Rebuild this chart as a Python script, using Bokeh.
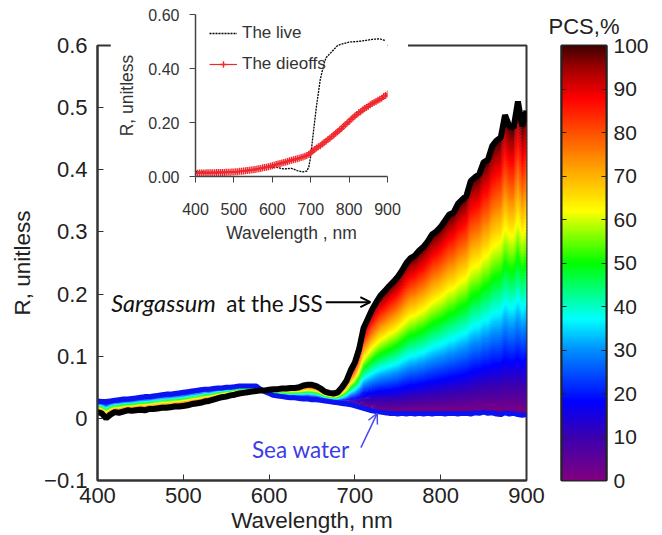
import numpy as np
from bokeh.embed import file_html
from bokeh.resources import INLINE
from bokeh.plotting import figure
from bokeh.layouts import column, row
from bokeh.models import (Arrow, OpenHead, Label, Legend, LegendItem, LinearAxis,
                          LinearColorMapper, Range1d, FixedTicker)

# ---------- data ----------
wavelength = list(range(400, 905, 5))
sargassum = [
    .010,.008,.000,.006,.010,.009,.011,.013,.012,.013,.014,.013,.015,.015,.016,.017,.017,.018,.019,.019,
    .020,.021,.023,.024,.025,.027,.028,.030,.032,.034,.035,.037,.038,.040,.041,.042,.043,.044,.045,.045,
    .046,.047,.047,.048,.048,.049,.049,.050,.053,.054,.054,.052,.048,.043,.041,.040,.042,.050,.060,.077,
    .090,.112,.145,.160,.175,.187,.198,.205,.213,.220,.228,.238,.250,.258,.262,.270,.276,.285,.296,.301,
    .308,.318,.328,.331,.345,.352,.358,.382,.388,.393,.412,.416,.438,.447,.452,.488,.470,.468,.510,.470,.495]
sea_water = [
    .028,.027,.027,.028,.029,.030,.031,.031,.032,.033,.034,.035,.035,.036,.037,.038,.039,.039,.040,.041,
    .042,.043,.044,.045,.046,.047,.047,.048,.049,.049,.050,.050,.051,.052,.052,.052,.052,.052,.047,.043,
    .040,.037,.036,.035,.034,.033,.033,.032,.031,.031,.030,.030,.029,.028,.027,.026,.025,.024,.023,.022,
    .020,.018,.016,.014,.012,.011,.010,.009,.008,.008,.007,.008,.007,.008,.007,.008,.007,.008,.007,.008,
    .008,.007,.008,.008,.007,.008,.008,.007,.009,.008,.010,.008,.009,.007,.006,.009,.007,.008,.006,.005,.006]
dieoffs = [
    .012,.012,.013,.013,.013,.013,.014,.014,.014,.014,.014,.015,.015,.015,.015,.015,.016,.016,.016,.017,
    .017,.018,.018,.019,.019,.020,.021,.022,.023,.024,.025,.026,.028,.029,.030,.032,.033,.034,.036,.038,
    .040,.042,.044,.046,.048,.050,.052,.054,.056,.058,.060,.062,.064,.066,.068,.070,.072,.075,.078,.082,
    .088,.094,.100,.106,.110,.114,.120,.126,.131,.137,.142,.148,.154,.160,.166,.172,.178,.185,.192,.198,
    .204,.212,.218,.224,.230,.236,.240,.246,.252,.256,.260,.266,.270,.274,.278,.282,.286,.290,.296,.300,.306]
live_wavelength = [400,450,500,550,590,610,630,650,665,680,690,695,700,705,710,715,720,725,730,735,
                   740,750,760,770,780,800,820,840,860,880,895]
live = [.018,.016,.016,.024,.036,.034,.028,.030,.022,.017,.020,.035,.075,.14,.20,.26,.31,.36,.39,.42,
        .44,.455,.47,.485,.49,.498,.50,.503,.508,.51,.503]
pcs_stops = [0, 10, 18, 30, 37, 50, 62, 72, 80, 88, 95, 100]
pcs_colors = ["#800080", "#3a00b0", "#0000ff", "#0090ff", "#00ffff", "#00ff00",
              "#ffff00", "#ffa000", "#ff5000", "#ff0000", "#a00000", "#400000"]
main_x_ticks = [400, 500, 600, 700, 800, 900]
main_y_ticks = [-0.1, 0, 0.1, 0.2, 0.3, 0.4, 0.5, 0.6]
main_y_labels = ["\u22120.1", "0", "0.1", "0.2", "0.3", "0.4", "0.5", "0.6"]
inset_y_ticks = [0, 0.2, 0.4, 0.6]
inset_y_labels = ["0.00", "0.20", "0.40", "0.60"]
pcs_ticks = [0, 10, 20, 30, 40, 50, 60, 70, 80, 90, 100]

# ---------- colours ----------
rgb = np.array([[int(c[i:i+2], 16) for i in (1, 3, 5)] for c in pcs_colors], float)
levels = np.linspace(0, 100, 256)
palette = ["#%02x%02x%02x" % tuple(int(round(np.interp(v, pcs_stops, rgb[:, k]))) for k in range(3))
           for v in levels]
mapper = LinearColorMapper(palette=palette, low=0, high=100)

FONT = "Liberation Sans"
DARK = "#333333"

# ---------- main plot ----------
p = figure(width=545, height=535, output_backend="svg", toolbar_location=None,
           x_range=Range1d(400, 900), y_range=Range1d(-0.1, 0.6),
           min_border_left=97, min_border_right=19, min_border_top=44, min_border_bottom=54,
           x_axis_label="Wavelength, nm", y_axis_label="R, unitless")
p.grid.visible = False
p.outline_line_color = DARK
p.outline_line_width = 2
for ax, ticks in ((p.xaxis[0], main_x_ticks), (p.yaxis[0], main_y_ticks)):
    ax.ticker = FixedTicker(ticks=ticks)
    ax.minor_tick_line_color = None
    ax.major_tick_in = 6
    ax.major_tick_out = 0
    ax.major_tick_line_color = DARK
    ax.axis_line_color = DARK
    ax.axis_line_width = 2
    ax.major_label_text_font = FONT
    ax.major_label_text_font_size = "22px"
    ax.major_label_text_color = "#222222"
    ax.axis_label_text_font = FONT
    ax.axis_label_text_font_size = "22.5px"
    ax.axis_label_text_font_style = "normal"
    ax.axis_label_text_color = "#222222"
p.yaxis[0].major_label_overrides = {t: l for t, l in zip(main_y_ticks, main_y_labels)}
p.xaxis[0].major_label_standoff = 7
p.xaxis[0].axis_label_standoff = 2
p.yaxis[0].major_label_standoff = 10
p.yaxis[0].axis_label_standoff = 6

wl = np.array(wavelength, float)
top = np.array(sargassum)
base = np.array(sea_water)
for pcs in range(100):
    lo = base + (top - base) * pcs / 100
    hi = base + (top - base) * min(pcs + 1.7, 100) / 100
    p.varea(wl, lo, hi, fill_color=palette[int(round((pcs + 0.5) / 100 * 255))])
p.line(wavelength, sea_water, line_color="#0a14f0", line_width=5)
p.line(wavelength, sargassum, line_color="black", line_width=6)

p.add_layout(Arrow(end=OpenHead(size=10, line_color="black", line_width=2), line_color="black", line_width=2,
                   x_start=666, y_start=0.187, x_end=718, y_end=0.187))
p.add_layout(Arrow(end=OpenHead(size=10, line_color="#4a4af0", line_width=1.5), line_color="#4a4af0", line_width=1.5,
                   x_start=707, y_start=-0.047, x_end=726, y_end=0.008))
p.add_layout(Label(x=416, y=0.185, text="Sargassum", text_font="Lato", text_font_style="italic",
                   text_font_size="23.5px", text_baseline="middle", text_color="#111111"))
p.add_layout(Label(x=550, y=0.185, text="at the JSS", text_font="Lato",
                   text_font_size="22.5px", text_baseline="middle", text_color="#111111"))
p.add_layout(Label(x=580, y=-0.05, text="Sea water", text_font="Lato",
                   text_font_size="22.5px", text_baseline="middle", text_color="#3c3ce6"))

# ---------- colour bar ----------
c = figure(width=111, height=535, output_backend="svg", toolbar_location=None,
           x_range=Range1d(0, 1), y_range=Range1d(0, 100),
           min_border_left=16, min_border_right=50, min_border_top=45, min_border_bottom=52)
c.grid.visible = False
c.xaxis.visible = False
c.outline_line_color = "#222222"
c.outline_line_width = 2
c.image(image=[levels.reshape(-1, 1)], x=0, y=0, dw=1, dh=100, color_mapper=mapper)
c.yaxis[0].visible = False
for side in ("left", "right"):
    ax = LinearAxis(ticker=FixedTicker(ticks=pcs_ticks), major_tick_in=5, major_tick_out=0,
                    minor_tick_line_color=None, axis_line_color="#222222", axis_line_width=2,
                    major_tick_line_color="#222222",
                    major_label_text_font=FONT, major_label_text_font_size="21px",
                    major_label_text_color="#222222", major_label_standoff=7)
    if side == "left":
        ax.major_label_text_color = None
        ax.major_label_text_font_size = "1px"
        ax.major_label_standoff = 0
    c.add_layout(ax, side)
c.title.text = "PCS,%"
c.title.align = "center"
c.title.offset = -2
c.title.standoff = 13
c.title.text_font = FONT
c.title.text_font_size = "22px"
c.title.text_font_style = "normal"
c.title.text_color = "#222222"

# ---------- inset ----------
q = figure(width=298, height=237, output_backend="svg", toolbar_location=None,
           x_range=Range1d(400, 900), y_range=Range1d(0, 0.6),
           min_border_left=85, min_border_right=21, min_border_top=6, min_border_bottom=69,
           x_axis_label="Wavelength , nm", y_axis_label="R, unitless",
           margin=(-527, 0, 0, 110))
q.grid.visible = False
q.outline_line_color = None
for ax, ticks in ((q.xaxis[0], main_x_ticks), (q.yaxis[0], inset_y_ticks)):
    ax.ticker = FixedTicker(ticks=ticks)
    ax.minor_tick_line_color = None
    ax.major_tick_in = 0
    ax.major_tick_out = 6
    ax.major_tick_line_color = "#444444"
    ax.axis_line_color = "#444444"
    ax.axis_line_width = 1.5
    ax.major_label_text_font = FONT
    ax.major_label_text_font_size = "16px"
    ax.major_label_text_color = "#333333"
    ax.axis_label_text_font = FONT
    ax.axis_label_text_font_size = "17.5px"
    ax.axis_label_text_font_style = "normal"
    ax.axis_label_text_color = "#333333"
q.yaxis[0].major_label_overrides = {t: l for t, l in zip(inset_y_ticks, inset_y_labels)}
q.xaxis[0].major_label_standoff = 20
q.xaxis[0].axis_label_standoff = 5
q.yaxis[0].major_label_standoff = 10
q.yaxis[0].axis_label_standoff = 8

r_live = q.line(live_wavelength, live, line_color="black", line_dash="2 1", line_width=1.3)
r_die = q.line(wavelength, dieoffs, line_color="#f0282e", line_width=1.2)
m_die = q.scatter(wavelength, dieoffs, marker="cross", size=7, line_color="#f0282e", line_width=1.4)
lg = Legend(items=[LegendItem(label="The live", renderers=[r_live]),
                   LegendItem(label="The dieoffs", renderers=[r_die, m_die])],
            location=(14, 102), border_line_color=None, background_fill_alpha=0,
            label_text_font=FONT, label_text_font_size="17px", label_text_color="#333333",
            glyph_width=28, glyph_height=16, label_standoff=5, spacing=11, padding=0, margin=0)
q.add_layout(lg)

open("out.html", "w").write(file_html(column(row(p, c, spacing=0), q, spacing=0), INLINE))
